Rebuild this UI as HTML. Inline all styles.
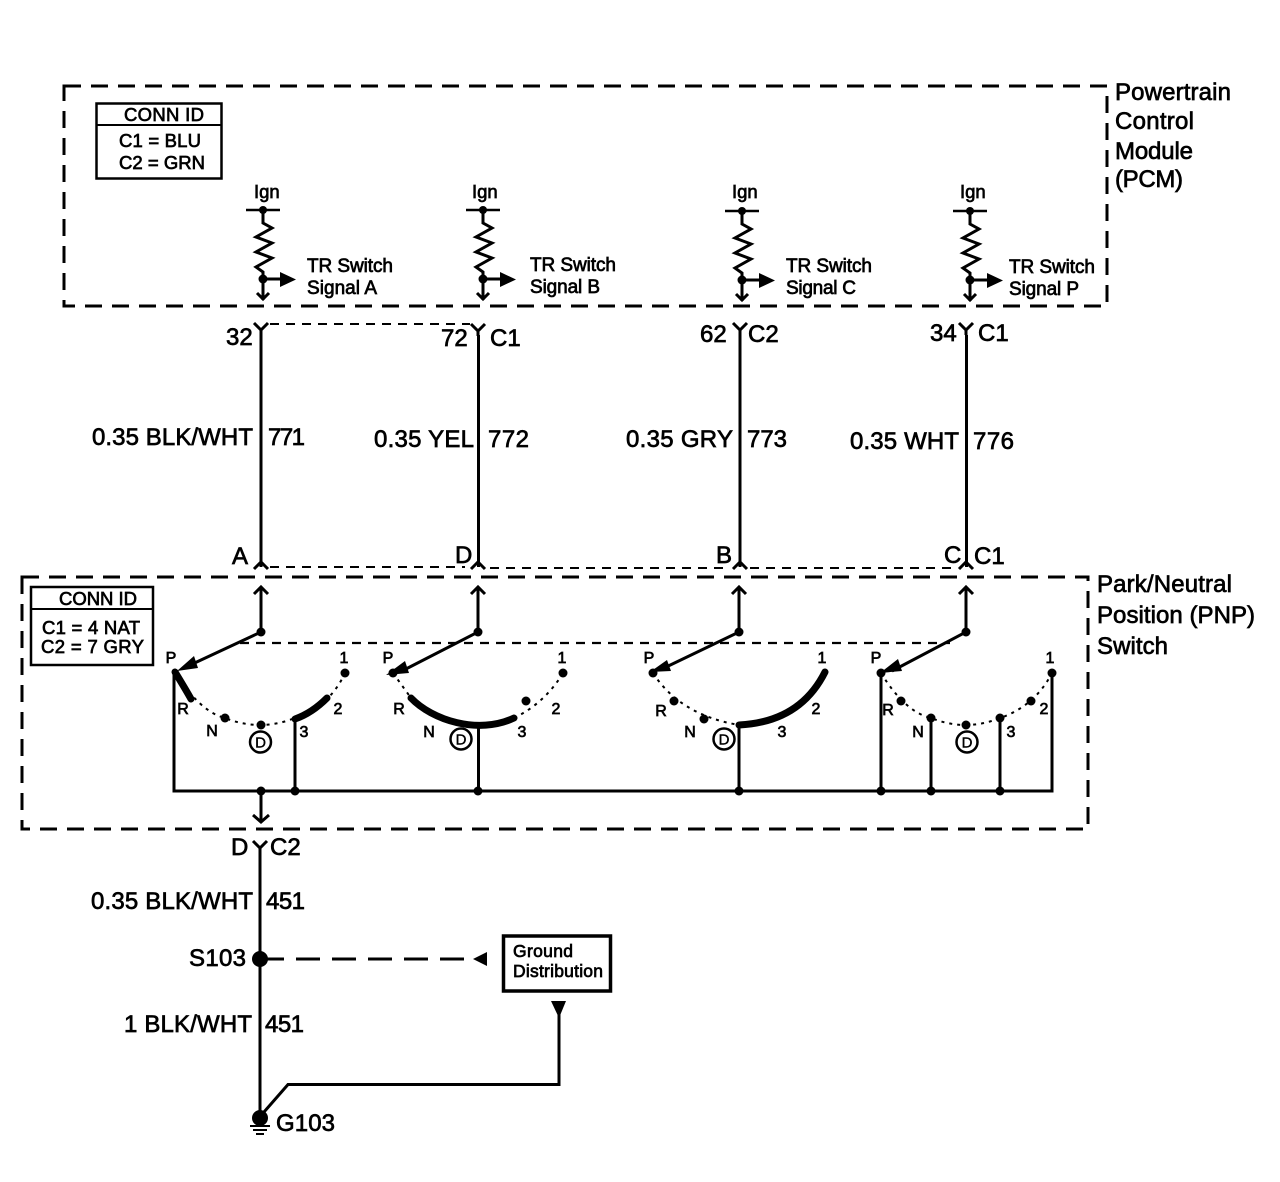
<!DOCTYPE html>
<html><head><meta charset="utf-8"><style>
html,body{margin:0;padding:0;background:#fff}
svg{display:block}
text{font-family:"Liberation Sans",sans-serif;fill:#000;stroke:#000;stroke-width:.7}
.l{font-size:24px}.s{font-size:18.500px}
.t{font-size:16px;text-anchor:middle;stroke-width:.7}
.c{font-size:15px;text-anchor:middle;stroke-width:.4}
.w{fill:none;stroke:#000;stroke-width:3}
.n{fill:none;stroke:#000;stroke-width:2}
.d{fill:none;stroke:#000;stroke-width:3;stroke-dasharray:17 10}
.e{fill:none;stroke:#000;stroke-width:2;stroke-dasharray:9 7}
.o{fill:none;stroke:#000;stroke-width:2;stroke-dasharray:3 5}
.b{fill:none;stroke:#000;stroke-width:7;stroke-linecap:round}
</style></head><body>
<svg width="1280" height="1182" viewBox="0 0 1280 1182" xmlns="http://www.w3.org/2000/svg">
<rect x="0" y="0" width="1280" height="1182" fill="#fff"/>
<defs>
<g id="res"><path class="w" style="stroke-width:2.500" d="M-17 0H17"/><circle r="4"/><path class="w" d="M0 0V13L9 18L-7 27L9 33L-7 42L9 48L-7 57L0 62V90"/><circle r="4.500" cy="69"/><path class="w" d="M0 69H18"/><path d="M17 62L33 69.500L17 77Z"/><path class="w" d="M-6 83L0 89L6 83"/></g>
<g id="yt"><path class="w" d="M0 12V6M-7 0L0 7L7 0"/></g>
<g id="ups"><path class="w" d="M0 54V10M-7 17L0 10L7 17"/><circle r="4.500" cy="55"/></g>
</defs>

<!-- boxes -->
<path class="d" d="M64 86H1107V306H64Z"/>
<path class="d" d="M22 577H1088V829H22Z"/>

<!-- PCM conn id -->
<rect x="96.500" y="103.500" width="125" height="75" fill="none" stroke="#000" stroke-width="2.500"/>
<path class="n" d="M97 125H221"/>
<text class="s" x="164" y="121" text-anchor="middle" textLength="80">CONN ID</text>
<text class="s" x="119" y="147" textLength="82">C1 = BLU</text>
<text class="s" x="119" y="169" textLength="86">C2 = GRN</text>

<!-- resistors -->
<use href="#res" x="263" y="210"/>
<use href="#res" x="483" y="210"/>
<use href="#res" x="742" y="211"/>
<use href="#res" x="970" y="211"/>
<text class="s" x="254" y="198">Ign</text><text class="s" x="472" y="198">Ign</text><text class="s" x="732" y="198">Ign</text><text class="s" x="960" y="198">Ign</text>
<text class="s" x="307" y="272" textLength="86" style="font-size:19px">TR Switch</text><text class="s" x="307" y="294" textLength="70" style="font-size:19px">Signal A</text>
<text class="s" x="530" y="271" textLength="86" style="font-size:19px">TR Switch</text><text class="s" x="530" y="293" textLength="70" style="font-size:19px">Signal B</text>
<text class="s" x="786" y="272" textLength="86" style="font-size:19px">TR Switch</text><text class="s" x="786" y="294" textLength="70" style="font-size:19px">Signal C</text>
<text class="s" x="1009" y="273" textLength="86" style="font-size:19px">TR Switch</text><text class="s" x="1009" y="295" textLength="70" style="font-size:19px">Signal P</text>

<!-- module labels -->
<text class="l" x="1115" y="100" textLength="116">Powertrain</text>
<text class="l" x="1115" y="129" textLength="79">Control</text>
<text class="l" x="1115" y="159" textLength="78">Module</text>
<text class="l" x="1115" y="187" textLength="68">(PCM)</text>
<text class="l" x="1097" y="592" textLength="135">Park/Neutral</text>
<text class="l" x="1097" y="623" textLength="158">Position (PNP)</text>
<text class="l" x="1097" y="654" textLength="71">Switch</text>

<!-- top connectors -->
<use href="#yt" x="261" y="323"/><use href="#yt" x="478" y="324"/><use href="#yt" x="740" y="323"/><use href="#yt" x="966" y="323"/>
<path class="e" d="M270 324H470"/>
<path class="w" d="M261 335V567M478.500 335V567M740 335V567M966.500 335V567"/>
<text class="l" x="226" y="345">32</text><text class="l" x="441" y="346">72</text><text class="l" x="490" y="346">C1</text>
<text class="l" x="700" y="342">62</text><text class="l" x="748" y="342">C2</text>
<text class="l" x="930" y="341">34</text><text class="l" x="978" y="341">C1</text>
<text class="l" x="92" y="445" textLength="161">0.35 BLK/WHT</text><text class="l" x="268" y="445" textLength="37">771</text>
<text class="l" x="374" y="447" textLength="100">0.35 YEL</text><text class="l" x="488" y="447" textLength="41">772</text>
<text class="l" x="626" y="447" textLength="107">0.35 GRY</text><text class="l" x="747" y="447" textLength="40">773</text>
<text class="l" x="850" y="449" textLength="109">0.35 WHT</text><text class="l" x="973" y="449" textLength="41">776</text>

<!-- bottom of wire connectors -->
<text class="l" x="232" y="564">A</text><text class="l" x="455" y="563">D</text><text class="l" x="716" y="563">B</text><text class="l" x="944" y="563">C</text><text class="l" x="974" y="564">C1</text>
<path class="w" d="M254 569L261 562L268 569M471 569L478 562L485 569M733 569L740 562L747 569M959 569L966 562L973 569"/>
<path class="e" d="M270 567H465M490 568H730M750 568H955"/>

<!-- switch inputs -->
<use href="#ups" x="261" y="577"/><use href="#ups" x="478" y="577"/><use href="#ups" x="739" y="577"/><use href="#ups" x="966" y="577"/>
<path class="e" style="stroke-width:2.200" d="M240 643H950"/>
<path class="w" d="M261 632L186 667M478 632L402 671M739 632L662 669M966 632L892 671"/>
<path d="M177 671L194 656L198 668Z"/><path d="M386 675L405 661L409 673Z"/><path d="M650 672L667 660L671 671Z"/><path d="M880 673L898 659L902 671Z"/>

<!-- PNP conn id -->
<rect x="31" y="587" width="122" height="78" fill="none" stroke="#000" stroke-width="2.500"/>
<path class="n" d="M32 609H152"/>
<text class="s" x="98" y="605" text-anchor="middle" textLength="78">CONN ID</text>
<text class="s" x="42" y="634" textLength="98">C1 = 4 NAT</text>
<text class="s" x="41" y="653" textLength="103">C2 = 7 GRY</text>

<!-- arcs: switch 1 -->
<path class="o" d="M175 672Q200 712 225 718Q260 732 295 718Q330 706 345 673"/>
<path class="b" d="M175 672Q186 690 191 699"/>
<path class="b" d="M295 719Q312 713 327 698"/>
<g><circle cx="225" cy="718" r="4.500"/><circle cx="261" cy="725" r="4.500"/><circle cx="345" cy="673" r="4.500"/></g>
<!-- switch 2 -->
<path class="o" d="M393 673L411 698M514 718Q545 703 563 673"/>
<path class="b" d="M411 698C432 720 478 735 514 718"/>
<g><circle cx="393" cy="673" r="4.500"/><circle cx="526" cy="701" r="4.500"/><circle cx="563" cy="673" r="4.500"/></g>
<!-- switch 3 -->
<path class="o" d="M653 673Q680 715 739 725"/>
<path class="b" d="M739 725Q800 722 825 672"/>
<g><circle cx="653" cy="673" r="4.500"/><circle cx="674" cy="701" r="4.500"/><circle cx="704" cy="719" r="4.500"/></g>
<!-- switch 4 -->
<path class="o" d="M881 673Q905 712 931 718Q966 732 1000 718Q1035 706 1052 673"/>
<g><circle cx="881" cy="673" r="4.500"/><circle cx="901" cy="701" r="4.500"/><circle cx="931" cy="718" r="4.500"/><circle cx="966" cy="725" r="4.500"/><circle cx="1000" cy="718" r="4.500"/><circle cx="1031" cy="701" r="4.500"/><circle cx="1052" cy="673" r="4.500"/></g>

<!-- rail -->
<path class="w" d="M174 672V791H1052V673M295 718V791M478.500 725V791M739 725V791M881 673V791M931 718V791M1000 718V791"/>
<g><circle cx="261" cy="791" r="4.500"/><circle cx="295" cy="791" r="4.500"/><circle cx="478" cy="791" r="4.500"/><circle cx="739" cy="791" r="4.500"/><circle cx="881" cy="791" r="4.500"/><circle cx="931" cy="791" r="4.500"/><circle cx="1000" cy="791" r="4.500"/></g>
<path class="w" d="M261 791V820M253 815L261 822L269 815"/>

<!-- position letters -->
<text class="t" x="171" y="663">P</text><text class="t" x="183" y="714">R</text><text class="t" x="212" y="736">N</text><text class="t" x="304" y="737">3</text><text class="t" x="338" y="714">2</text><text class="t" x="344" y="663">1</text>
<text class="t" x="388" y="663">P</text><text class="t" x="399" y="714">R</text><text class="t" x="429" y="737">N</text><text class="t" x="522" y="737">3</text><text class="t" x="556" y="714">2</text><text class="t" x="562" y="663">1</text>
<text class="t" x="649" y="663">P</text><text class="t" x="661" y="716">R</text><text class="t" x="690" y="737">N</text><text class="t" x="782" y="737">3</text><text class="t" x="816" y="714">2</text><text class="t" x="822" y="663">1</text>
<text class="t" x="876" y="663">P</text><text class="t" x="888" y="715">R</text><text class="t" x="918" y="737">N</text><text class="t" x="1011" y="737">3</text><text class="t" x="1044" y="714">2</text><text class="t" x="1050" y="663">1</text>
<!-- circled D -->
<g fill="none" stroke="#000" stroke-width="2.500">
<circle cx="260.500" cy="742" r="10.500"/><circle cx="461" cy="739" r="10.500"/><circle cx="724" cy="739" r="10.500"/><circle cx="967" cy="742" r="10.500"/>
</g>
<text class="c" x="260.500" y="747.500">D</text><text class="c" x="461" y="744.500">D</text><text class="c" x="724" y="744.500">D</text><text class="c" x="967" y="747.500">D</text>

<!-- lower wiring -->
<use href="#yt" x="260" y="841"/>
<path class="w" d="M260 853V1115"/>
<text class="l" x="231" y="855">D</text><text class="l" x="270" y="855">C2</text>
<text class="l" x="91" y="909" textLength="162">0.35 BLK/WHT</text><text class="l" x="266" y="909" textLength="39">451</text>
<text class="l" x="189" y="966" textLength="57">S103</text>
<circle cx="260" cy="959" r="8"/>
<path class="w" d="M260 959H480" stroke-dasharray="24 12"/>
<path d="M473 959L487 952V966Z"/>
<rect x="503.500" y="936" width="107" height="55" fill="none" stroke="#000" stroke-width="3.500"/>
<text class="s" x="513" y="957" textLength="60" style="font-size:17.500px">Ground</text>
<text class="s" x="513" y="977" textLength="90" style="font-size:17.500px">Distribution</text>
<text class="l" x="124" y="1032" textLength="128">1 BLK/WHT</text><text class="l" x="265" y="1032" textLength="39">451</text>
<path d="M551 1001H566L559 1018Z"/>
<path class="w" d="M559 1010V1084.500H288L264 1112"/>
<circle cx="260" cy="1118" r="8"/>
<path class="n" d="M250 1126H270M253 1130H267M256 1134H264"/>
<text class="l" x="276" y="1131" textLength="59">G103</text>
</svg>
</body></html>
